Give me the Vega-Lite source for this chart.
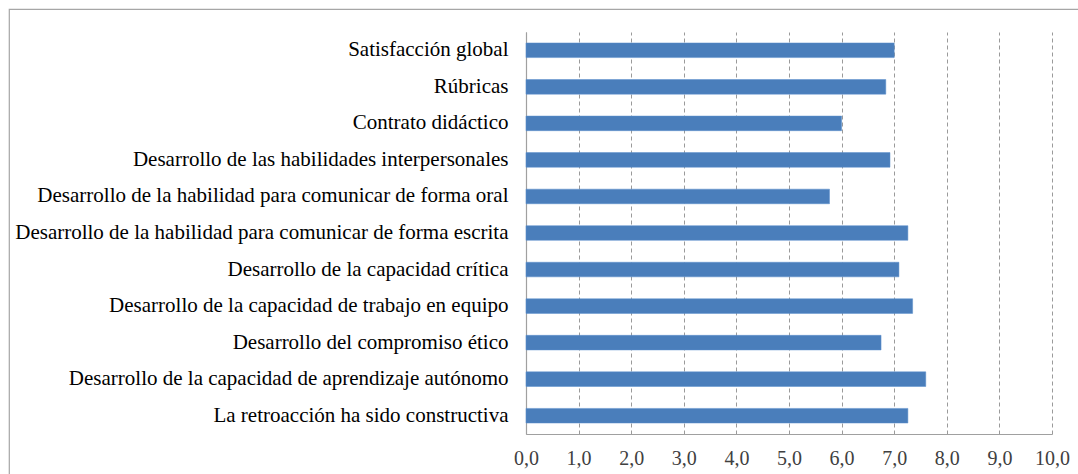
{
  "$schema": "https://vega.github.io/schema/vega-lite/v6.json",
  "width": 1080,
  "height": 470,
  "padding": {"left": 9, "top": 9, "right": 0, "bottom": 0},
  "autosize": {"type": "none"},
  "background": "white",
  "config": {"view": {"stroke": "#a6a6a6", "strokeWidth": 1.2}},
  "data": {
    "values": [
      {"item": "Satisfacción global", "valor": 7.0},
      {"item": "Rúbricas", "valor": 6.84},
      {"item": "Contrato didáctico", "valor": 6.0},
      {"item": "Desarrollo de las habilidades interpersonales\u00a0", "valor": 6.92},
      {"item": "Desarrollo de la habilidad para comunicar de forma oral\u00a0", "valor": 5.77},
      {"item": "Desarrollo de la habilidad para comunicar de forma escrita\u00a0", "valor": 7.26},
      {"item": "Desarrollo de la capacidad crítica", "valor": 7.09},
      {"item": "Desarrollo de la capacidad de trabajo en equipo", "valor": 7.35},
      {"item": "Desarrollo del compromiso ético\u00a0", "valor": 6.75},
      {"item": "Desarrollo de la capacidad de aprendizaje autónomo", "valor": 7.6},
      {"item": "La retroacción ha sido constructiva", "valor": 7.26}
    ]
  },
  "mark": {"type": "bar", "color": "#4a7ebb", "stroke": "#5b8fcc", "strokeWidth": 0.5},
  "encoding": {
    "y": {
      "field": "item",
      "type": "nominal",
      "sort": null,
      "scale": {"range": [23, 425], "paddingInner": 0.6, "paddingOuter": 0.3},
      "axis": {
        "title": null,
        "offset": -517,
        "ticks": false,
        "grid": false,
        "domainColor": "#a0a0a0",
        "domainWidth": 1.2,
        "labelFont": "Liberation Serif, Times New Roman, serif",
        "labelFontSize": 21,
        "labelColor": "#000000",
        "labelPadding": 18,
        "labelLimit": 600
      }
    },
    "x": {
      "field": "valor",
      "type": "quantitative",
      "scale": {"domain": [0, 10], "range": [517, 1043], "nice": false, "zero": true},
      "axis": {
        "title": null,
        "offset": -45,
        "values": [0, 1, 2, 3, 4, 5, 6, 7, 8, 9, 10],
        "labelExpr": "replace(format(datum.value, '.1f'), '.', ',')",
        "labelFlush": false,
        "grid": false,
        "ticks": true,
        "tickSize": -402,
        "tickColor": "#9a9a9a",
        "tickDash": [4, 3],
        "tickWidth": 1,
        "domainColor": "#a0a0a0",
        "domainWidth": 1.2,
        "labelFont": "Liberation Serif, Times New Roman, serif",
        "labelFontSize": 20,
        "labelColor": "#404040",
        "labelPadding": 416
      }
    }
  }
}
